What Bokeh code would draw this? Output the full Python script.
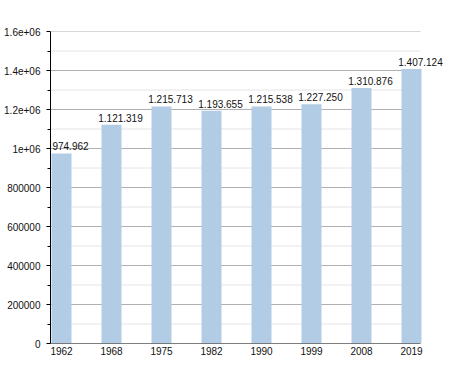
from bokeh.plotting import figure
from bokeh.models import ColumnDataSource, FixedTicker, Range1d
from bokeh.embed import file_html
from bokeh.resources import INLINE
from bokeh.core.properties import value

years = ["1962", "1968", "1975", "1982", "1990", "1999", "2008", "2019"]
population = [974962, 1121319, 1215713, 1193655, 1215538, 1227250, 1310876, 1407124]
ytick_values = [0, 200000, 400000, 600000, 800000, 1000000, 1200000, 1400000, 1600000]
ytick_labels = ["0", "200000", "400000", "600000", "800000", "1e+06", "1.2e+06", "1.4e+06", "1.6e+06"]
yminor_values = [100000, 300000, 500000, 700000, 900000, 1100000, 1300000, 1500000]

xs = list(range(len(years)))
labels = [f"{v:,}".replace(",", ".") for v in population]
src = ColumnDataSource(dict(x=xs, top=population, label=labels))

FONT = "Liberation Sans"
X0, X1 = -0.22, 7.18  # visible axis extent

p = figure(width=446, height=365, output_backend="svg", toolbar_location=None,
           x_range=Range1d(X0, 7.70), y_range=Range1d(0, 1600000),
           min_border_left=50, min_border_right=0, min_border_top=31, min_border_bottom=22)
p.outline_line_color = None
p.background_fill_color = "white"

# gridlines limited to the axis extent
p.segment(x0=[X0] * len(yminor_values), x1=[X1] * len(yminor_values), y0=yminor_values, y1=yminor_values,
          line_color="#e4e4e4", line_width=1)
p.segment(x0=[X0] * (len(ytick_values) - 1), x1=[X1] * (len(ytick_values) - 1),
          y0=ytick_values[1:], y1=ytick_values[1:], line_color="#b0b0b0", line_width=1)

p.vbar(x="x", top="top", width=0.4, source=src, fill_color="#b3cce5", line_color=None)
p.text(x="x", y="top", text="label", source=src, text_font=value(FONT), text_font_size="10px",
       text_align="center", text_baseline="bottom", x_offset=9, y_offset=-3, text_color="#111111")

# x axis line
p.segment(x0=[X0], x1=[X1], y0=[0], y1=[0], line_color="black", line_width=1)

p.yaxis.ticker = FixedTicker(ticks=ytick_values, minor_ticks=yminor_values)
p.yaxis.major_label_overrides = {v: l for v, l in zip(ytick_values, ytick_labels)}
p.yaxis.major_label_text_font = FONT
p.yaxis.major_label_text_font_size = "10px"
p.yaxis.major_label_text_color = "#111111"
p.yaxis.major_tick_out = 4
p.yaxis.major_tick_in = 0
p.yaxis.minor_tick_out = 3
p.yaxis.minor_tick_in = 0
p.yaxis.major_label_standoff = 6
p.yaxis.axis_line_color = "black"
p.yaxis.major_tick_line_color = "black"
p.yaxis.minor_tick_line_color = "black"

p.xaxis.ticker = FixedTicker(ticks=xs)
p.xaxis.major_label_overrides = {i: y for i, y in zip(xs, years)}
p.xaxis.major_label_text_font = FONT
p.xaxis.major_label_text_font_size = "10px"
p.xaxis.major_label_text_color = "#111111"
p.xaxis.major_tick_line_color = None
p.xaxis.minor_tick_line_color = None
p.xaxis.major_tick_out = 0
p.xaxis.major_tick_in = 0
p.xaxis.minor_tick_out = 0
p.xaxis.minor_tick_in = 0
p.xaxis.major_label_standoff = 3
p.xaxis.axis_line_color = None

p.xgrid.grid_line_color = None
p.ygrid.grid_line_color = None

open("out.html", "w").write(file_html(p, INLINE))
